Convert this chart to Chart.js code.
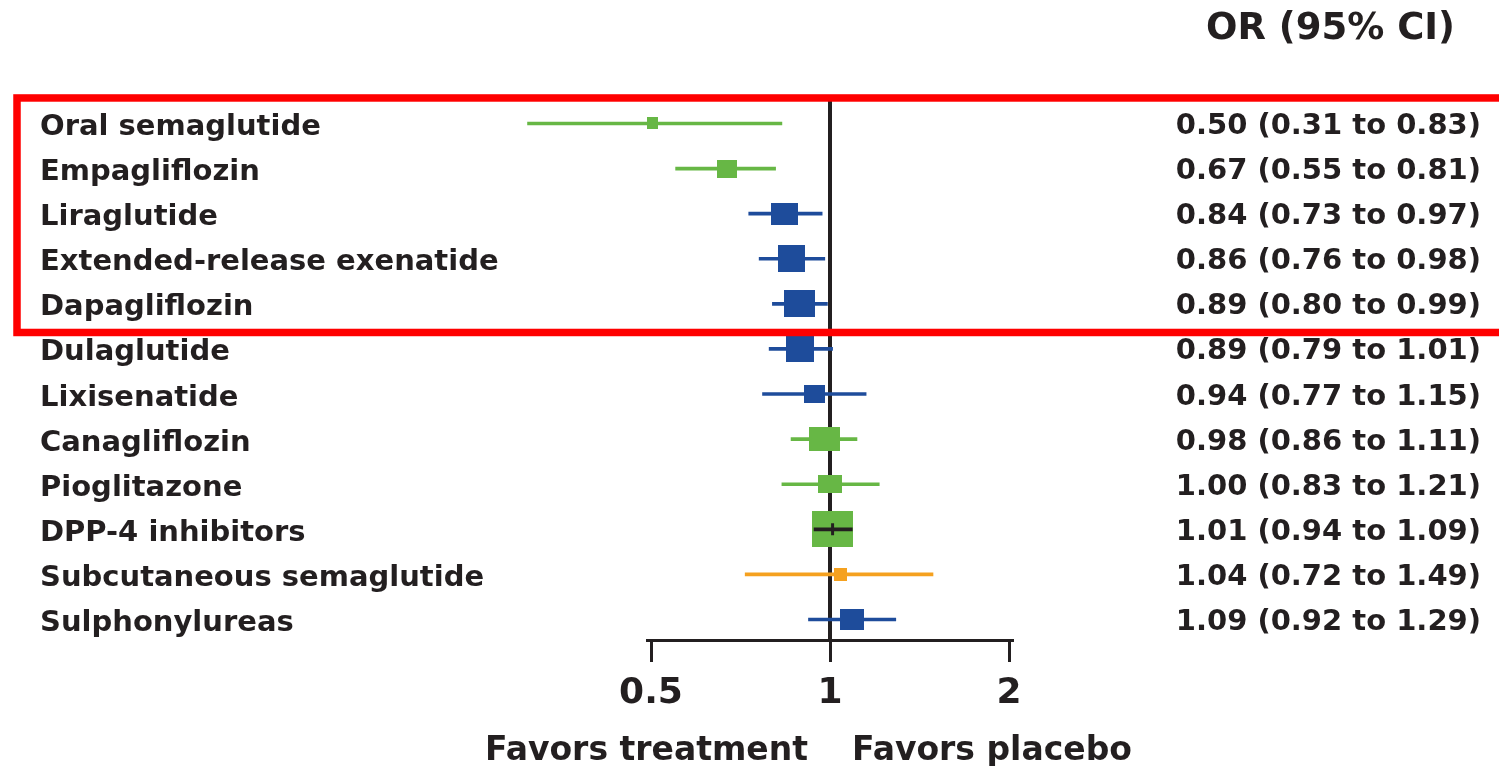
<!DOCTYPE html>
<html lang="en">
<head>
  <meta charset="UTF-8" />
  <title>Forest plot - OR (95% CI)</title>
  <script src="https://cdn.jsdelivr.net/npm/chart.js"></script>
  <style>
    html, body { margin: 0; padding: 0; background: #fff; }
    #wrap { width: 1499px; height: 766px; }
  </style>
</head>
<body>
  <div id="wrap"><canvas id="forest" width="1499" height="766"></canvas></div>

  <script>
    // ---- data ----
    const drugs = [
      'Oral semaglutide', 'Empagliflozin', 'Liraglutide', 'Extended-release exenatide',
      'Dapagliflozin', 'Dulaglutide', 'Lixisenatide', 'Canagliflozin',
      'Pioglitazone', 'DPP-4 inhibitors', 'Subcutaneous semaglutide', 'Sulphonylureas'
    ];
    const oddsRatio = [0.50, 0.67, 0.84, 0.86, 0.89, 0.89, 0.94, 0.98, 1.00, 1.01, 1.04, 1.09];
    const ciLow     = [0.31, 0.55, 0.73, 0.76, 0.80, 0.79, 0.77, 0.86, 0.83, 0.94, 0.72, 0.92];
    const ciHigh    = [0.83, 0.81, 0.97, 0.98, 0.99, 1.01, 1.15, 1.11, 1.21, 1.09, 1.49, 1.29];
    const xTicks = [0.5, 1, 2];
    const highlighted = 5;      // first rows inside the red box
    const pooledRow = 9;        // DPP-4 row drawn with black whisker on top

    // ---- styles ----
    const ink = '#231f20';
    const palette = { green: '#67b745', blue: '#1e4c9b', orange: '#f5a11f' };
    const rowColour = ['green', 'green', 'blue', 'blue', 'blue', 'blue', 'blue', 'green', 'green', 'green', 'orange', 'blue'];
    const boxW = [13, 20, 27, 27, 31, 28, 21, 31, 24, 41, 13, 24];
    const boxH = [12, 18, 22, 27, 27, 26, 18, 24, 18, 36, 13, 21];
    const FONT = '"DejaVu Sans", sans-serif';

    const fmt = v => v.toFixed(2);
    const orLabels = drugs.map((_, i) => `${fmt(oddsRatio[i])} (${fmt(ciLow[i])} to ${fmt(ciHigh[i])})`);
    const colours = rowColour.map(k => palette[k]);

    function box(w, h, colour) {
      const c = document.createElement('canvas');
      c.width = w; c.height = h;
      const g = c.getContext('2d');
      g.fillStyle = colour;
      g.fillRect(0, 0, w, h);
      return c;
    }
    const boxes = drugs.map((_, i) => box(boxW[i], boxH[i], colours[i]));

    const rowTicks = scale => { scale.ticks = drugs.map((_, i) => ({ value: i })); };
    const yRange = { min: -1, max: 11.455, reverse: true, offset: false };

    // red box, header and the favours captions
    const extras = {
      id: 'extras',
      afterDraw(chart) {
        const { ctx, scales: { x, y } } = chart;
        ctx.save();
        ctx.strokeStyle = '#ff0000';
        ctx.lineWidth = 7.5;
        const top = y.getPixelForValue(-0.566);
        const bottom = y.getPixelForValue(highlighted - 0.365);
        ctx.strokeRect(17, top, 1520, bottom - top);

        ctx.fillStyle = ink;
        ctx.textBaseline = 'alphabetic';
        ctx.font = 'bold 37px ' + FONT;
        ctx.textAlign = 'right';
        ctx.fillText('OR (95% CI)', 1455, 39);

        const mid = x.getPixelForValue(1);
        ctx.font = 'bold 33px ' + FONT;
        ctx.textAlign = 'right';
        ctx.fillText('Favors treatment', mid - 22, 760);
        ctx.textAlign = 'left';
        ctx.fillText('Favors placebo', mid + 22, 760);
        ctx.restore();
      }
    };

    new Chart(document.getElementById('forest'), {
      type: 'scatter',
      data: {
        datasets: [
          {
            // pooled estimate: black whisker and tick on top of the box
            type: 'scatter',
            data: [{ x: oddsRatio[pooledRow], y: pooledRow }],
            pointStyle: 'line',
            rotation: 90,
            radius: 6,
            borderWidth: 3,
            borderColor: ink,
            order: 0
          },
          {
            type: 'bar',
            indexAxis: 'y',
            data: [{ x: [ciLow[pooledRow], ciHigh[pooledRow]], y: pooledRow }],
            backgroundColor: ink,
            barThickness: 3,
            grouped: false,
            clip: false,
            order: 1
          },
          {
            type: 'scatter',
            data: oddsRatio.map((v, i) => ({ x: v, y: i })),
            pointStyle: boxes,
            radius: 3,
            order: 2
          },
          {
            type: 'bar',
            indexAxis: 'y',
            data: drugs.map((_, i) => ({ x: [ciLow[i], ciHigh[i]], y: i })),
            backgroundColor: colours,
            barThickness: 3,
            grouped: false,
            clip: false,
            order: 3
          },
          {
            type: 'line',
            data: [{ x: 1, y: -0.55 }, { x: 1, y: yRange.max }],
            borderColor: ink,
            borderWidth: 4,
            pointRadius: 0,
            order: 4
          }
        ]
      },
      options: {
        responsive: false,
        animation: false,
        layout: { padding: { left: 40, right: 18, top: 78.4, bottom: 0 } },
        plugins: { legend: { display: false }, tooltip: { enabled: false } },
        scales: {
          x: {
            type: 'logarithmic',
            min: 0.4923,
            max: 2.031,
            offset: false,
            afterBuildTicks: s => { s.ticks = xTicks.map(v => ({ value: v })); },
            afterFit: s => { s.height = 126; },
            ticks: {
              callback: v => String(v),
              autoSkip: false,
              maxRotation: 0,
              padding: 10,
              color: ink,
              font: { family: FONT, size: 36, weight: 'bold' }
            },
            grid: {
              offset: false,
              drawOnChartArea: false,
              drawTicks: true,
              tickLength: 22,
              tickWidth: 3,
              tickColor: ink
            },
            border: { display: true, color: ink, width: 3 }
          },
          y: {
            type: 'linear',
            position: 'left',
            ...yRange,
            afterBuildTicks: rowTicks,
            afterFit: s => { s.width = 607; },
            ticks: {
              callback: v => drugs[v],
              autoSkip: false,
              crossAlign: 'far',
              labelOffset: 4,
              color: ink,
              font: { family: FONT, size: 29, weight: 'bold' }
            },
            grid: { display: false, offset: false },
            border: { display: false }
          },
          y2: {
            type: 'linear',
            position: 'right',
            ...yRange,
            afterBuildTicks: rowTicks,
            afterFit: s => { s.width = 468; },
            ticks: {
              callback: v => orLabels[v],
              autoSkip: false,
              crossAlign: 'far',
              labelOffset: 3,
              color: ink,
              font: { family: FONT, size: 29, weight: 'bold' }
            },
            grid: { display: false },
            border: { display: false }
          }
        }
      },
      plugins: [extras]
    });
  </script>
</body>
</html>
